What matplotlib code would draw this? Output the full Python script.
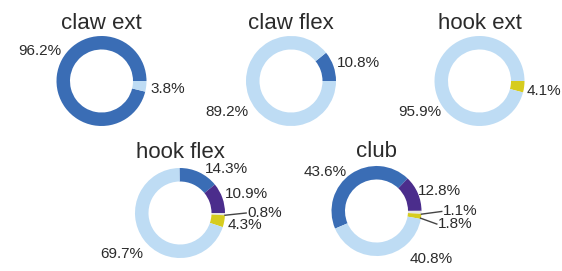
import matplotlib.pyplot as plt

plt.rcParams['font.family'] = ['Liberation Sans', 'DejaVu Sans']

# %% data: shares per grip, order = [blue, purple, grey, yellow, light]
titles = ['claw ext', 'claw flex', 'hook ext', 'hook flex', 'club']
claw_ext = [96.2, 0, 0, 0, 3.8]
claw_flex = [10.8, 0, 0, 0, 89.2]
hook_ext = [0, 0, 0, 4.1, 95.9]
hook_flex = [14.3, 10.9, 0.8, 4.3, 69.7]
club = [43.6, 12.8, 1.1, 1.8, 40.8]
all_vals = [claw_ext, claw_flex, hook_ext, hook_flex, club]

colors = ['#3a6db5', '#4b2d8c', '#e4e4e4', '#d6cc1f', '#bedcf4']
txt_col = '#2b2b2b'

# %% layout (pixels of the 562x271 picture, radius units for labels)
W, H, R = 562, 271, 45
centers = [(101.5, 81), (291, 81), (479.5, 81), (180, 213), (376.5, 211)]
title_y = [1.16, 1.16, 1.16, 1.22, 1.2]
label_pos = [
    [(-1.37, 0.67), (1.48, -0.18)],
    [(1.50, 0.41), (-1.43, -0.70)],
    [(1.44, -0.22), (-1.32, -0.70)],
    [(1.03, 0.98), (1.48, 0.42), (1.5, 0.0), (1.44, -0.27), (-1.30, -0.91)],
    [(-1.13, 0.86), (1.39, 0.44), (1.48, 0.0), (1.36, -0.30), (1.21, -1.07)],
]
# leader lines for the tiny slices: (chart, slice) -> line
leaders = {
    (3, 2): ((1.0, -0.05), (1.47, 0.0)),
    (4, 2): ((1.0, -0.07), (1.45, -0.01)),
    (4, 3): ((0.98, -0.16), (1.34, -0.29)),
}

fig = plt.figure(figsize=(W / 100, H / 100), dpi=100)

for i, (title, vals) in enumerate(zip(titles, all_vals)):
    cx, cy = centers[i]
    ax = fig.add_axes([(cx - R) / W, (H - cy - R) / H, 2 * R / W, 2 * R / H])
    keep = [j for j, v in enumerate(vals) if v > 0]
    start = 3.6 * (vals[0] + vals[1])
    ax.pie([vals[j] for j in keep], colors=[colors[j] for j in keep],
           startangle=start, counterclock=False, radius=1,
           wedgeprops=dict(width=0.3, linewidth=0))
    ax.set_xlim(-1, 1)
    ax.set_ylim(-1, 1)
    ax.text(0, title_y[i], title, ha='center', va='baseline', fontsize=16,
            color=txt_col)
    for j, (lx, ly) in zip(keep, label_pos[i]):
        ha = 'center'
        if (i, j) in leaders:
            (x0, y0), (x1, y1) = leaders[(i, j)]
            ax.plot([x0, x1], [y0, y1], color='#444444', lw=1, clip_on=False)
            ha = 'left'
        ax.text(lx, ly, f'{vals[j]:.1f}%', ha=ha, va='center', fontsize=11,
                color=txt_col, family=['Liberation Sans Narrow', 'Liberation Sans'])

fig.savefig('out.png', dpi=100)
